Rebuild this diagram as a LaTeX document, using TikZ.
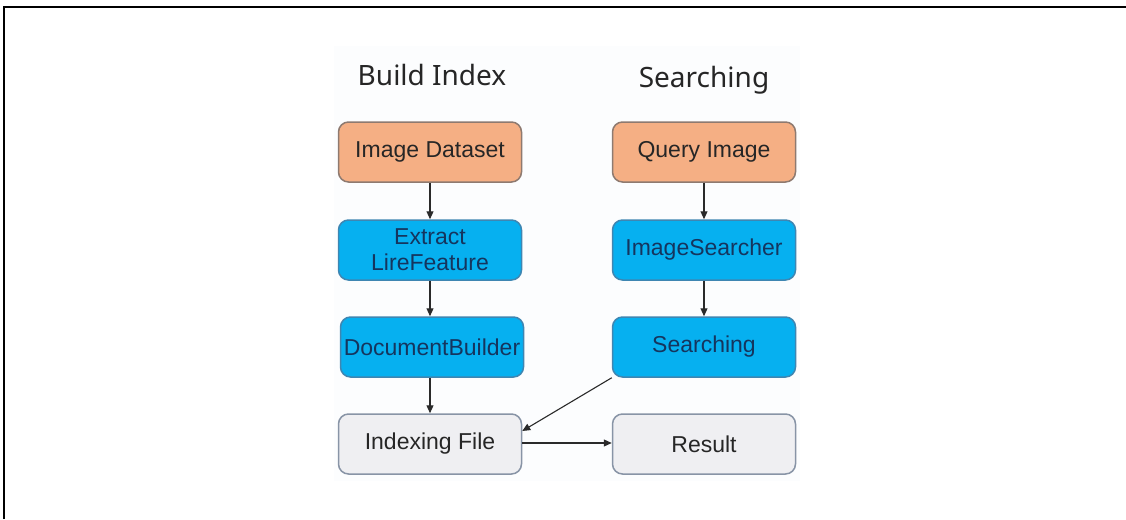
\documentclass[tikz,border=0pt]{standalone}
\usepackage{fontspec}
\setmainfont{Liberation Sans}
\newfontfamily\titlefont{Noto Sans}
\usetikzlibrary{arrows.meta}

\definecolor{peachfill}{HTML}{F5AF84}
\definecolor{peachline}{HTML}{8E7A70}
\definecolor{cyanfill}{HTML}{06B0F0}
\definecolor{cyanline}{HTML}{3E86B2}
\definecolor{greyfill}{HTML}{EFEFF2}
\definecolor{greyline}{HTML}{8894A6}
\definecolor{navytext}{HTML}{15355E}
\definecolor{darktext}{HTML}{262626}
\definecolor{arrowcol}{HTML}{2A2A2A}
\definecolor{panelbg}{HTML}{FCFDFE}

\tikzset{
  box/.style={rounded corners=10pt, line width=1.5pt, minimum width=183pt,
    minimum height=60pt, align=center, inner sep=1pt,
    font=\fontsize{23}{26}\selectfont},
  inputbox/.style={box, fill=peachfill, draw=peachline, text=darktext},
  stagebox/.style={box, fill=cyanfill, draw=cyanline, text=navytext},
  outbox/.style={box, fill=greyfill, draw=greyline, text=darktext},
  heading/.style={font=\titlefont\fontsize{28}{32}\selectfont, text=darktext, inner sep=0pt},
  flow/.style={draw=arrowcol, line width=1.1pt, -{Triangle[length=8pt,width=7pt]}}
}

\begin{document}
\begin{tikzpicture}[x=1pt, y=-1pt]
  \useasboundingbox (0,0) rectangle (1126,519);
  % frame (top and left edges)
  \draw[line width=2pt] (4,519) -- (4,7) -- (1126,7);
  % light panel behind the chart
  \fill[panelbg] (334,46) rectangle (800,481);

  % column headings
  \node[heading] (hbuild) at (432,75) {Build Index};
  \node[heading] (hsearch) at (704,80) {Searching};

  % indexing column
  \node[inputbox] (dataset) at (430,152) {Image Dataset};
  \node[stagebox] (extract) at (430,250) {Extract\\LireFeature};
  \node[stagebox] (docbuild) at (432,347) {DocumentBuilder};
  \node[outbox]   (indexfile) at (430,444) {Indexing File};

  % searching column
  \node[inputbox] (query) at (704,152) {Query Image};
  \node[stagebox] (searcher) at (704,250) {ImageSearcher};
  \node[stagebox] (searching) at (704,347) {Searching};
  \node[outbox]   (result) at (704,444) {Result};

  % connectors
  \draw[flow] (dataset) -- (extract);
  \draw[flow] (extract) -- (docbuild.north -| extract.south);
  \draw[flow] (docbuild.south -| extract.south) -- (indexfile);
  \draw[flow] (query) -- (searcher);
  \draw[flow] (searcher) -- (searching);
  \draw[flow] (searching.south west) -- ([yshift=13pt]indexfile.east);
  \draw[flow] ([yshift=1pt]indexfile.east) -- ([yshift=1pt]result.west);
\end{tikzpicture}
\end{document}
